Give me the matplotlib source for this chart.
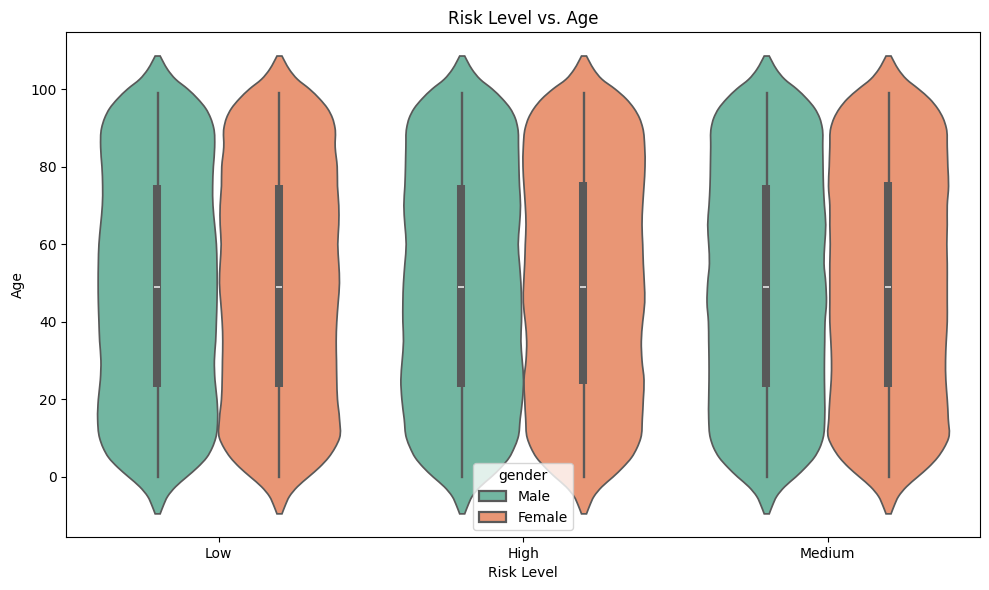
import numpy as np
import matplotlib
matplotlib.use("Agg")
import matplotlib.pyplot as plt
from matplotlib.path import Path
from matplotlib.patches import PathPatch, Patch

categories = ["Low", "High", "Medium"]
genders = ["Male", "Female"]
colors = {"Male": "#72b6a1", "Female": "#e99675"}
edge = "#595959"

age_grid = [-9.5, -7.5, -5, -2.5, 0, 2.5, 5, 7.5, 10, 15, 20, 25, 30, 35, 40, 45, 50,
            55, 60, 65, 70, 75, 80, 85, 90, 92.5, 95, 97.5, 100, 102.5, 105, 107, 108.5]

# violin half-widths at each age in age_grid (in 1/304.5 x-units)
low_male = [2.5, 5.5, 10, 18, 29, 40, 49, 54.5, 58, 60, 59.3, 57.3, 56.7, 58, 58.7, 59.3, 59.5,
            59.3, 58.7, 57, 55.3, 55, 55.7, 57, 56, 53, 48, 40, 30, 18, 10, 5.5, 2.5]
low_female = [2.5, 5.5, 10, 18, 29, 40, 49, 55.5, 60, 60, 58, 57.3, 57, 56.7, 57.3, 58.7, 60,
              59.3, 58.3, 59.3, 59.3, 58, 57.7, 55.7, 55.5, 53, 48, 40, 30, 18, 10, 5.5, 2.5]
high_male = [2.5, 5.5, 10, 18, 29, 39, 47, 52, 55.7, 58, 60.3, 61.3, 60, 58.7, 59.3, 59.3, 58.7,
             57.3, 56, 57.3, 58.3, 57.3, 56.7, 56.3, 55.5, 53, 48, 40, 30, 18, 10, 5.5, 2.5]
high_female = [2.5, 5.5, 10, 18, 29, 39, 47.5, 53, 56.7, 58.3, 59.3, 60, 58, 57.3, 58.7, 60.7, 60.3,
               59.3, 58.7, 58, 58.7, 60, 61, 60.7, 58.7, 55.5, 50, 42, 31, 18, 10, 5.5, 2.5]
medium_male = [2.5, 5.5, 10, 18, 29, 39, 47.5, 53, 56.3, 58, 58, 57.7, 57.7, 58, 58.3, 59.7, 59,
               57.3, 58, 59, 57.7, 56.7, 56.3, 56, 55.5, 53, 48, 40, 30, 18, 10, 5.5, 2.5]
medium_female = [2.5, 5.5, 10, 18, 29, 40, 49, 55.5, 60, 59.7, 58.7, 57.3, 57, 57.7, 58.7, 58.7, 58.7,
                 58.7, 58.3, 58.7, 58.7, 60, 59.3, 58.7, 57.7, 54.5, 49, 41, 30, 18, 10, 5.5, 2.5]

whisker_low = [0, 0, 0, 0, 0, 0]
whisker_high = [99, 99, 99, 99, 99, 99]
q1_values = [23.2, 23.2, 23.2, 24, 23.2, 23.2]
q3_values = [75.3, 75.3, 75.3, 76, 75.3, 76]
medians = [49, 49, 49, 49, 49, 49]

profiles = [low_male, low_female, high_male, high_female, medium_male, medium_female]

fig = plt.figure(figsize=(9.89, 5.9), dpi=100)
ax = fig.add_axes([66.3 / 989, 1 - 537.2 / 590, 913.6 / 989, 505.2 / 590])
PX = 304.5


def side_path(ages, w):
    """Smooth Hermite curve through the read points, as Bezier segments."""
    a = np.asarray(ages, float)
    w = np.asarray(w, float)
    m = np.gradient(w, a)
    verts = []
    for i in range(len(a) - 1):
        h = a[i + 1] - a[i]
        verts.append((w[i] + m[i] * h / 3, a[i] + h / 3))
        verts.append((w[i + 1] - m[i + 1] * h / 3, a[i + 1] - h / 3))
        verts.append((w[i + 1], a[i + 1]))
    return [(w[0], a[0])], verts


for k, prof in enumerate(profiles):
    cat = k // 2
    g = genders[k % 2]
    x0 = cat + (-0.2 if k % 2 == 0 else 0.2)
    start, curve = side_path(age_grid, prof)
    right = start + curve
    left = right[::-1]
    verts, codes = [], []
    for i, (w, y) in enumerate(right):
        verts.append((x0 + w / PX, y))
        codes.append(Path.MOVETO if i == 0 else Path.CURVE4)
    for i, (w, y) in enumerate(left):
        verts.append((x0 - w / PX, y))
        codes.append(Path.LINETO if i == 0 else Path.CURVE4)
    verts.append(verts[0])
    codes.append(Path.CLOSEPOLY)
    ax.add_patch(PathPatch(Path(verts, codes), facecolor=colors[g], edgecolor=edge, linewidth=1.25, zorder=2))
    ax.plot([x0, x0], [whisker_low[k], whisker_high[k]], color=edge, lw=1.7, solid_capstyle="projecting", zorder=3)
    bx = x0 - 0.7 / PX
    ax.plot([bx, bx], [q1_values[k], q3_values[k]], color=edge, lw=5.8, solid_capstyle="butt", zorder=4)
    ax.plot([bx - 3 / PX, bx + 3 / PX], [medians[k], medians[k]], color="#f2f2f2", lw=1.1,
            solid_capstyle="butt", zorder=5)

ax.set_xlim(-0.5, 2.5)
ax.set_ylim((477 - 537.2) / 3.88, (477 - 32) / 3.88)
ax.set_xticks(range(len(categories)))
ax.set_xticklabels(categories)
ax.set_yticks([0, 20, 40, 60, 80, 100])
ax.set_xlabel("Risk Level")
ax.set_ylabel("Age")
ax.set_title("Risk Level vs. Age")

handles = [Patch(facecolor=colors[g], edgecolor=edge, linewidth=1.6, label=g) for g in genders]
ax.legend(handles=handles, title="gender", loc="lower center")

fig.savefig("out.png", dpi=100)
